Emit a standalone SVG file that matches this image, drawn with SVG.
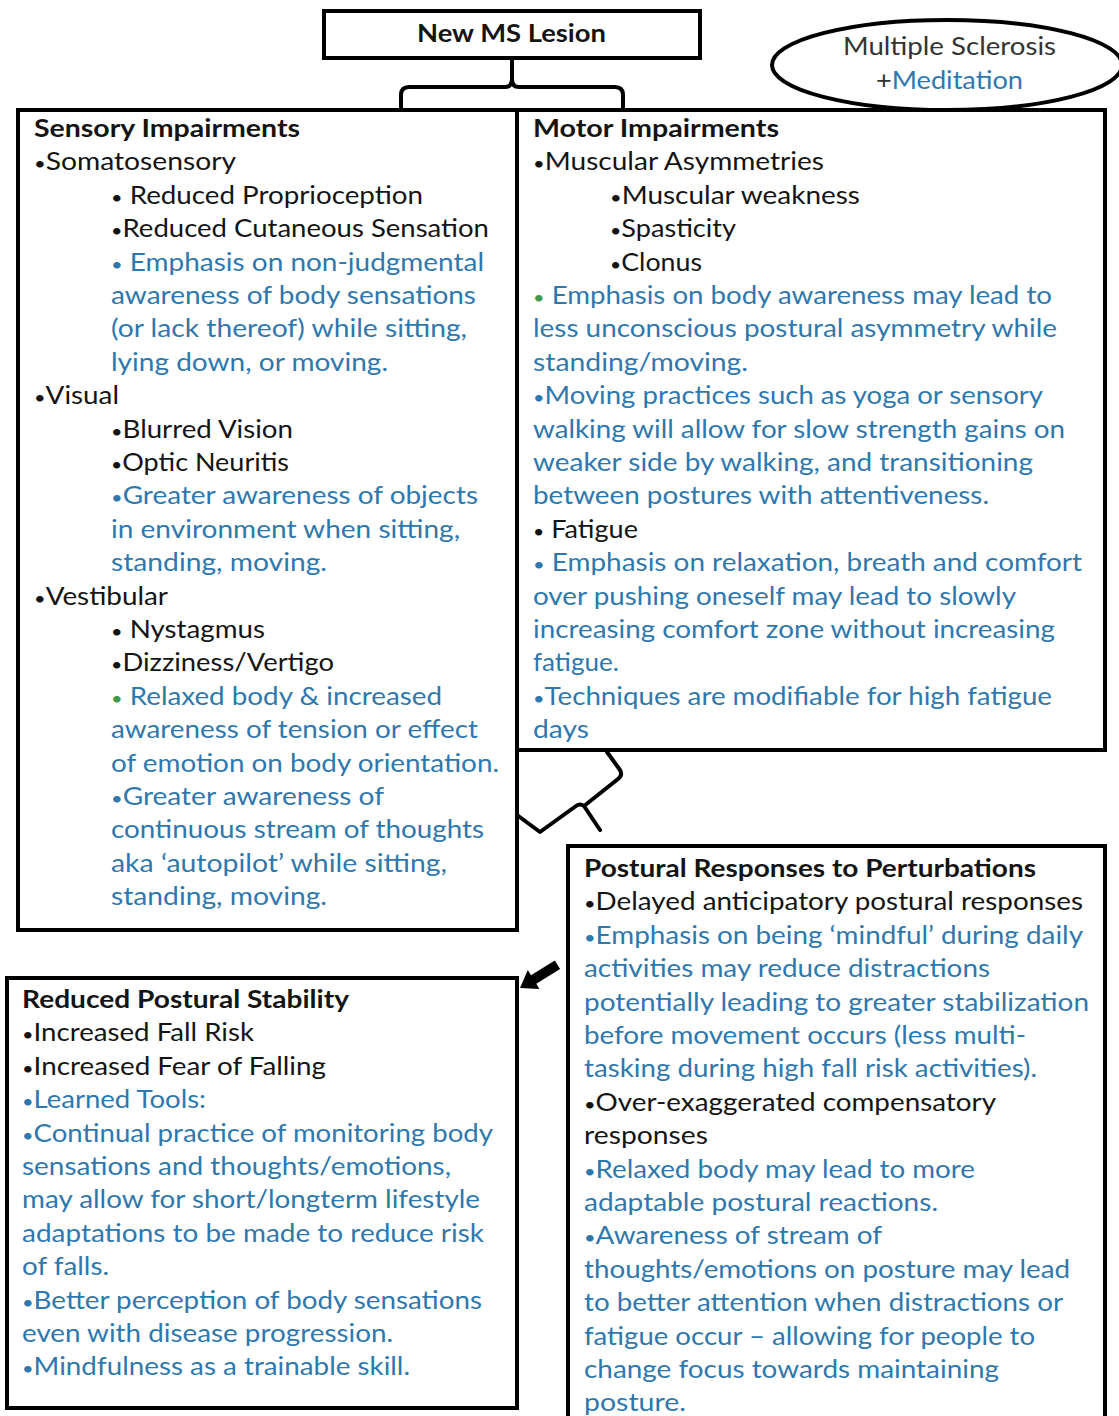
<svg xmlns="http://www.w3.org/2000/svg" width="1119" height="1416" viewBox="0 0 1119 1416">
<style>
text{font-family:Lato,"Liberation Sans",sans-serif;font-size:25px;fill:#141414}
.h{font-weight:bold}
.b{fill:#2f78ad}
.g{fill:#3f9a4c}
.d{font-size:18px}
.box{fill:none;stroke:#000;stroke-width:4}
.con{fill:none;stroke:#000;stroke-width:4;stroke-linejoin:round;stroke-linecap:round}
</style>
<rect width="1119" height="1416" fill="#fff"/>
<g id="connectors">
<path class="con" d="M512,58 L512,79 Q512,87 519,87 L615,87 Q623,87 623,95 L623,110 M512,79 Q512,87 505,87 L409,87 Q401,87 401,95 L401,110"/>
<path class="con" d="M607,752 L620,770 Q623,775 618,779 L584,806 L600,830 M584,806 Q580,803 576,806 L540,832 L517,815"/>
<polygon points="520,988 539.4,988.9 536.3,983.8 560.1,969 554.8,960.5 531,975.3 527.8,970.1" fill="#000"/>
</g>
<g id="ms-meditation">
<ellipse cx="947" cy="65" rx="175" ry="45" fill="none" stroke="#000" stroke-width="4"/>
<text x="843" y="55" textLength="213" lengthAdjust="spacingAndGlyphs" style="fill:#333">Multiple Sclerosis</text>
<text x="876" y="89" textLength="147" lengthAdjust="spacingAndGlyphs"><tspan style="fill:#333">+</tspan><tspan class="b">Meditation</tspan></text>
</g>
<g id="new-ms-lesion">
<rect class="box" x="324" y="11" width="376" height="47"/>
<text class="h" x="417" y="42" textLength="189" lengthAdjust="spacingAndGlyphs">New MS Lesion</text>
</g>
<g id="sensory">
<rect class="box" x="18" y="110" width="499" height="820"/>
<text class="h" x="34" y="137" textLength="266" lengthAdjust="spacingAndGlyphs">Sensory Impairments</text>
<text x="34" y="170.4" textLength="202" lengthAdjust="spacingAndGlyphs"><tspan class="d">•</tspan>Somatosensory</text>
<text x="111" y="203.8" textLength="312" lengthAdjust="spacingAndGlyphs"><tspan class="d">•</tspan> Reduced Proprioception</text>
<text x="111" y="237.2" textLength="378" lengthAdjust="spacingAndGlyphs"><tspan class="d">•</tspan>Reduced Cutaneous Sensation</text>
<text class="b" x="111" y="270.6" textLength="373" lengthAdjust="spacingAndGlyphs"><tspan class="d">•</tspan> Emphasis on non-judgmental</text>
<text class="b" x="111" y="304" textLength="365" lengthAdjust="spacingAndGlyphs">awareness of body sensations</text>
<text class="b" x="111" y="337.4" textLength="356" lengthAdjust="spacingAndGlyphs">(or lack thereof) while sitting,</text>
<text class="b" x="111" y="370.8" textLength="277" lengthAdjust="spacingAndGlyphs">lying down, or moving.</text>
<text x="34" y="404.2" textLength="85" lengthAdjust="spacingAndGlyphs"><tspan class="d">•</tspan>Visual</text>
<text x="111" y="437.6" textLength="182" lengthAdjust="spacingAndGlyphs"><tspan class="d">•</tspan>Blurred Vision</text>
<text x="111" y="471" textLength="178" lengthAdjust="spacingAndGlyphs"><tspan class="d">•</tspan>Optic Neuritis</text>
<text class="b" x="111" y="504.4" textLength="367" lengthAdjust="spacingAndGlyphs"><tspan class="d">•</tspan>Greater awareness of objects</text>
<text class="b" x="111" y="537.8" textLength="349" lengthAdjust="spacingAndGlyphs">in environment when sitting,</text>
<text class="b" x="111" y="571.2" textLength="216" lengthAdjust="spacingAndGlyphs">standing, moving.</text>
<text x="34" y="604.6" textLength="134" lengthAdjust="spacingAndGlyphs"><tspan class="d">•</tspan>Vestibular</text>
<text x="111" y="638" textLength="154" lengthAdjust="spacingAndGlyphs"><tspan class="d">•</tspan> Nystagmus</text>
<text x="111" y="671.4" textLength="223" lengthAdjust="spacingAndGlyphs"><tspan class="d">•</tspan>Dizziness/Vertigo</text>
<text class="b" x="111" y="704.8" textLength="331" lengthAdjust="spacingAndGlyphs"><tspan class="g d">•</tspan> Relaxed body &amp; increased</text>
<text class="b" x="111" y="738.2" textLength="367" lengthAdjust="spacingAndGlyphs">awareness of tension or effect</text>
<text class="b" x="111" y="771.6" textLength="388" lengthAdjust="spacingAndGlyphs">of emotion on body orientation.</text>
<text class="b" x="111" y="805" textLength="273" lengthAdjust="spacingAndGlyphs"><tspan class="d">•</tspan>Greater awareness of</text>
<text class="b" x="111" y="838.4" textLength="373" lengthAdjust="spacingAndGlyphs">continuous stream of thoughts</text>
<text class="b" x="111" y="871.8" textLength="336" lengthAdjust="spacingAndGlyphs">aka ‘autopilot’ while sitting,</text>
<text class="b" x="111" y="905.2" textLength="216" lengthAdjust="spacingAndGlyphs">standing, moving.</text>
</g>
<g id="motor">
<rect class="box" x="517" y="110" width="588" height="640"/>
<text class="h" x="533" y="137" textLength="246" lengthAdjust="spacingAndGlyphs">Motor Impairments</text>
<text x="533" y="170.4" textLength="291" lengthAdjust="spacingAndGlyphs"><tspan class="d">•</tspan>Muscular Asymmetries</text>
<text x="610" y="203.8" textLength="250" lengthAdjust="spacingAndGlyphs"><tspan class="d">•</tspan>Muscular weakness</text>
<text x="610" y="237.2" textLength="126" lengthAdjust="spacingAndGlyphs"><tspan class="d">•</tspan>Spasticity</text>
<text x="610" y="270.6" textLength="92" lengthAdjust="spacingAndGlyphs"><tspan class="d">•</tspan>Clonus</text>
<text class="b" x="533" y="304" textLength="519" lengthAdjust="spacingAndGlyphs"><tspan class="g d">•</tspan> Emphasis on body awareness may lead to</text>
<text class="b" x="533" y="337.4" textLength="524" lengthAdjust="spacingAndGlyphs">less unconscious postural asymmetry while</text>
<text class="b" x="533" y="370.8" textLength="215" lengthAdjust="spacingAndGlyphs">standing/moving.</text>
<text class="b" x="533" y="404.2" textLength="510" lengthAdjust="spacingAndGlyphs"><tspan class="d">•</tspan>Moving practices such as yoga or sensory</text>
<text class="b" x="533" y="437.6" textLength="532" lengthAdjust="spacingAndGlyphs">walking will allow for slow strength gains on</text>
<text class="b" x="533" y="471" textLength="500" lengthAdjust="spacingAndGlyphs">weaker side by walking, and transitioning</text>
<text class="b" x="533" y="504.4" textLength="456" lengthAdjust="spacingAndGlyphs">between postures with attentiveness.</text>
<text x="533" y="537.8" textLength="105" lengthAdjust="spacingAndGlyphs"><tspan class="d">•</tspan> Fatigue</text>
<text class="b" x="533" y="571.2" textLength="549" lengthAdjust="spacingAndGlyphs"><tspan class="d">•</tspan> Emphasis on relaxation, breath and comfort</text>
<text class="b" x="533" y="604.6" textLength="483" lengthAdjust="spacingAndGlyphs">over pushing oneself may lead to slowly</text>
<text class="b" x="533" y="638" textLength="522" lengthAdjust="spacingAndGlyphs">increasing comfort zone without increasing</text>
<text class="b" x="533" y="671.4" textLength="86" lengthAdjust="spacingAndGlyphs">fatigue.</text>
<text class="b" x="533" y="704.8" textLength="519" lengthAdjust="spacingAndGlyphs"><tspan class="d">•</tspan>Techniques are modifiable for high fatigue</text>
<text class="b" x="533" y="738.2" textLength="56" lengthAdjust="spacingAndGlyphs">days</text>
</g>
<g id="postural-responses">
<rect class="box" x="568" y="846" width="537" height="600"/>
<text class="h" x="584" y="877" textLength="452" lengthAdjust="spacingAndGlyphs">Postural Responses to Perturbations</text>
<text x="584" y="910.4" textLength="499" lengthAdjust="spacingAndGlyphs"><tspan class="d">•</tspan>Delayed anticipatory postural responses</text>
<text class="b" x="584" y="943.8" textLength="499" lengthAdjust="spacingAndGlyphs"><tspan class="d">•</tspan>Emphasis on being ‘mindful’ during daily</text>
<text class="b" x="584" y="977.2" textLength="406" lengthAdjust="spacingAndGlyphs">activities may reduce distractions</text>
<text class="b" x="584" y="1010.6" textLength="505" lengthAdjust="spacingAndGlyphs">potentially leading to greater stabilization</text>
<text class="b" x="584" y="1044" textLength="442" lengthAdjust="spacingAndGlyphs">before movement occurs (less multi-</text>
<text class="b" x="584" y="1077.4" textLength="453" lengthAdjust="spacingAndGlyphs">tasking during high fall risk activities).</text>
<text x="584" y="1110.8" textLength="412" lengthAdjust="spacingAndGlyphs"><tspan class="d">•</tspan>Over-exaggerated compensatory</text>
<text x="584" y="1144.2" textLength="124" lengthAdjust="spacingAndGlyphs">responses</text>
<text class="b" x="584" y="1177.6" textLength="391" lengthAdjust="spacingAndGlyphs"><tspan class="d">•</tspan>Relaxed body may lead to more</text>
<text class="b" x="584" y="1211" textLength="354" lengthAdjust="spacingAndGlyphs">adaptable postural reactions.</text>
<text class="b" x="584" y="1244.4" textLength="298" lengthAdjust="spacingAndGlyphs"><tspan class="d">•</tspan>Awareness of stream of</text>
<text class="b" x="584" y="1277.8" textLength="486" lengthAdjust="spacingAndGlyphs">thoughts/emotions on posture may lead</text>
<text class="b" x="584" y="1311.2" textLength="479" lengthAdjust="spacingAndGlyphs">to better attention when distractions or</text>
<text class="b" x="584" y="1344.6" textLength="451" lengthAdjust="spacingAndGlyphs">fatigue occur – allowing for people to</text>
<text class="b" x="584" y="1378" textLength="415" lengthAdjust="spacingAndGlyphs">change focus towards maintaining</text>
<text class="b" x="584" y="1411.4" textLength="102" lengthAdjust="spacingAndGlyphs">posture.</text>
</g>
<g id="reduced-postural-stability">
<rect class="box" x="7" y="978" width="510" height="430"/>
<text class="h" x="22" y="1008" textLength="327" lengthAdjust="spacingAndGlyphs">Reduced Postural Stability</text>
<text x="22" y="1041.4" textLength="232" lengthAdjust="spacingAndGlyphs"><tspan class="d">•</tspan>Increased Fall Risk</text>
<text x="22" y="1074.8" textLength="304" lengthAdjust="spacingAndGlyphs"><tspan class="d">•</tspan>Increased Fear of Falling</text>
<text class="b" x="22" y="1108.2" textLength="184" lengthAdjust="spacingAndGlyphs"><tspan class="d">•</tspan>Learned Tools:</text>
<text class="b" x="22" y="1141.6" textLength="471" lengthAdjust="spacingAndGlyphs"><tspan class="d">•</tspan>Continual practice of monitoring body</text>
<text class="b" x="22" y="1175" textLength="429" lengthAdjust="spacingAndGlyphs">sensations and thoughts/emotions,</text>
<text class="b" x="22" y="1208.4" textLength="458" lengthAdjust="spacingAndGlyphs">may allow for short/longterm lifestyle</text>
<text class="b" x="22" y="1241.8" textLength="462" lengthAdjust="spacingAndGlyphs">adaptations to be made to reduce risk</text>
<text class="b" x="22" y="1275.2" textLength="87" lengthAdjust="spacingAndGlyphs">of falls.</text>
<text class="b" x="22" y="1308.6" textLength="460" lengthAdjust="spacingAndGlyphs"><tspan class="d">•</tspan>Better perception of body sensations</text>
<text class="b" x="22" y="1342" textLength="371" lengthAdjust="spacingAndGlyphs">even with disease progression.</text>
<text class="b" x="22" y="1375.4" textLength="388" lengthAdjust="spacingAndGlyphs"><tspan class="d">•</tspan>Mindfulness as a trainable skill.</text>
</g>
</svg>
